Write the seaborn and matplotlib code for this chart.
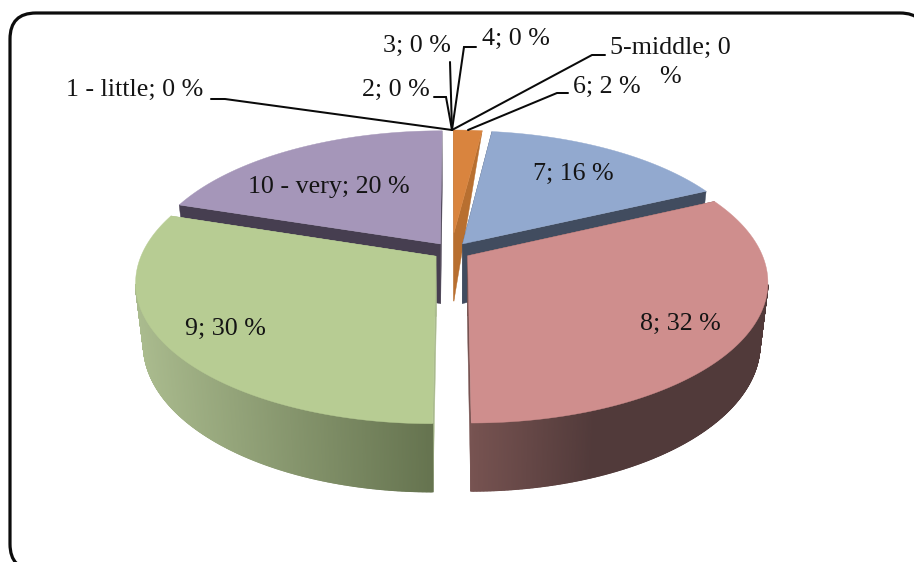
import numpy as np
import matplotlib
matplotlib.use("Agg")
import matplotlib.pyplot as plt
from matplotlib.collections import PolyCollection
from matplotlib.patches import FancyBboxPatch
import seaborn as sns

# Survey answers on a 1-10 scale, share of respondents in percent
categories = ["1 - little", "2", "3", "4", "5-middle", "6", "7", "8", "9", "10 - very"]
shares = [0, 0, 0, 0, 0, 2, 16, 32, 30, 20]

# Per-answer styling, only for answers with a non-zero share
face_hex = {"6": "#d9843e", "7": "#92a9cf", "8": "#cf8e8d", "9": "#b7cc93", "10 - very": "#a596b9"}
wall_hex = {
    "6": ("#b86f30", "#b86f30"),
    "7": ("#414c5f", "#414c5f"),
    "8": ("#775351", "#513a3a"),
    "9": ("#aabb8e", "#65734f"),
    "10 - very": ("#463e50", "#463e50"),
}
wall_fade = {"6": 1.0, "7": 1.0, "8": 2.4, "9": 1.0, "10 - very": 1.0}
explode = {"6": 0.136, "7": 0.065, "8": 0.065, "9": 0.065, "10 - very": 0.065}
radius = {"6": 0.925, "7": 1.0, "8": 1.0, "9": 1.0, "10 - very": 1.0}
tip_drop = {"6": 69, "7": 60, "8": 60, "9": 60, "10 - very": 60}
rim_drop = {"6": 0, "7": 60, "8": 60, "9": 60, "10 - very": 60}
paint_order = ["10 - very", "6", "7", "9", "8"]

# Label placement: text centre (x, y) and leader path from the label to the pie
label_xy = {
    "1 - little": (135, 90), "2": (396, 90), "3": (417, 46), "4": (516, 39),
    "5-middle": (670, 48), "6": (607, 87), "7": (573, 174), "8": (680, 324),
    "9": (225, 329), "10 - very": (329, 187),
}
wrapped_tail_xy = (670, 77)
leader_paths = {
    "1 - little": [(211, 99), (225, 99), (452, 130)],
    "2": [(434, 97), (446, 97), (452, 130)],
    "3": [(450, 62), (452, 130)],
    "4": [(476, 47), (464, 47), (452, 130)],
    "5-middle": [(605, 55), (592, 55), (452, 130)],
    "6": [(568, 93), (557, 93), (468, 130)],
}

# Perspective camera for the disc
CX, CY = 451.5, 251.0
SCALE_X, SCALE_Y, TILT = 293.0, 135.6, 0.178
BASE_SHRINK_X, BASE_STRETCH_Y = 0.975, 1.047


def project(u, v):
    """Map disc-plane coordinates to canvas coordinates."""
    den = 1 + TILT * v
    return CX + SCALE_X * u / den, CY - SCALE_Y * v / den


def base(x, y, drop):
    """Canvas position of the disc underside below a top-surface point."""
    if drop == 0:
        return x, y
    return CX + (x - CX) * BASE_SHRINK_X, CY + (y - CY) * BASE_STRETCH_Y + drop


sns.set_theme(style="white")
plt.rcParams["font.family"] = ["Liberation Serif", "DejaVu Serif"]

fig = plt.figure(figsize=(9.14, 5.62), dpi=100, facecolor="white")
ax = fig.add_axes([0, 0, 1, 1])
ax.set_xlim(0, 914)
ax.set_ylim(562, 0)
ax.axis("off")

# Rounded chart border, running past the right and bottom edges
ax.add_patch(FancyBboxPatch((36, 39), 864, 505, boxstyle="round,pad=26,rounding_size=26",
                            fc="white", ec="#0c0c0c", lw=2.3, zorder=0))

# Cumulative wedge angles, clockwise from the top
names = [c for c, s in zip(categories, shares) if s > 0]
fractions = np.array([s for s in shares if s > 0], dtype=float) / sum(shares)
edges = np.concatenate([[0], np.cumsum(fractions)]) * 2 * np.pi
spans = {n: (edges[i], edges[i + 1]) for i, n in enumerate(names)}

z = 1
for name in paint_order:
    start, stop = spans[name]
    mid = (start + stop) / 2
    e, r = explode[name], radius[name]
    u0, v0 = e * np.sin(mid), e * np.cos(mid)
    theta = np.linspace(start, stop, 500)
    x_rim, y_rim = project(u0 + r * np.sin(theta), v0 + r * np.cos(theta))
    x_tip, y_tip = project(u0, v0)
    light, dark = wall_hex[name]

    # Flat cut walls along both radial edges
    bx_tip, by_tip = base(x_tip, y_tip, tip_drop[name])
    for i in (0, -1):
        bx, by = base(x_rim[i], y_rim[i], rim_drop[name])
        ax.fill([x_tip, x_rim[i], bx, bx_tip], [y_tip, y_rim[i], by, by_tip],
                color=light, lw=0.3, zorder=z)
    z += 1

    # Outer wall on the near side only, as overlapping strips shaded across its width
    front = np.flatnonzero(np.cos(theta[:-1]) < -0.2)
    if rim_drop[name] > 0 and front.size:
        bx, by = base(x_rim, y_rim, rim_drop[name])
        ramp = sns.blend_palette([light, dark], 256)
        t = (x_rim - x_rim.min()) / (x_rim.max() - x_rim.min())
        t = np.clip(t * wall_fade[name], 0, 1)
        strips = [[(x_rim[k], y_rim[k]), (x_rim[k + 1], y_rim[k + 1]),
                   (bx[k + 1], by[k + 1]), (bx[k], by[k])] for k in front]
        tones = [ramp[int(t[k] * 255)] for k in front]
        ax.add_collection(PolyCollection(strips, facecolors=tones, edgecolors=tones,
                                         linewidths=0.9, zorder=z))
        z += 1

    # Top surface
    ax.fill(np.r_[x_tip, x_rim], np.r_[y_tip, y_rim], color=face_hex[name], lw=0.3, zorder=z)
    z += 1

# Leader lines for the thin and empty slices
for name, path in leader_paths.items():
    xs, ys = zip(*path)
    ax.plot(xs, ys, color="#0a0a0a", lw=1.45, solid_joinstyle="miter", zorder=z)
z += 1

# Data labels; the long "5-middle" label wraps its percent sign onto a second line
for name, share in zip(categories, shares):
    text = f"{name}; {share} %"
    if name == "5-middle":
        text = f"{name}; {share}"
        ax.text(*wrapped_tail_xy, "%", ha="center", va="center", fontsize=18.7,
                color="#141414", zorder=z)
    ax.text(*label_xy[name], text, ha="center", va="center", fontsize=18.7, color="#141414",
            zorder=z)

fig.savefig("out.png", dpi=100, facecolor="white")
